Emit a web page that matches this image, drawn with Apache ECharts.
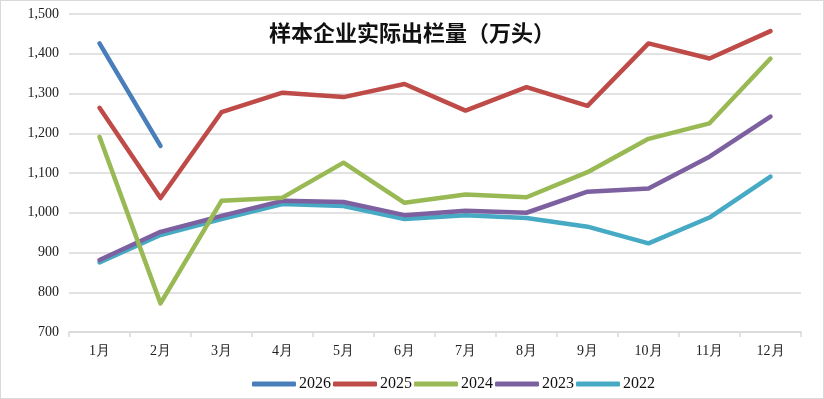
<!DOCTYPE html>
<html>
<head>
<meta charset="utf-8">
<script src="https://cdn.jsdelivr.net/npm/echarts@6/dist/echarts.min.js"></script>
<style>
html, body { margin: 0; padding: 0; background: #fff; }
#box { width: 824px; height: 399px; box-sizing: border-box; border: 1px solid #d9d9d9; }
#chart { width: 822px; height: 397px; }
</style>
</head>
<body>
<div id="box"><div id="chart"></div></div>
<script>
var months = ['1月', '2月', '3月', '4月', '5月', '6月', '7月', '8月', '9月', '10月', '11月', '12月'];
var years = ['2026', '2025', '2024', '2023', '2022'];
var colors = ['#4a7ebb', '#be4b48', '#98b954', '#7d60a0', '#46aac5'];

var v2026 = [1426, 1168];
var v2025 = [1264, 1037, 1253, 1302, 1291, 1324, 1257, 1316, 1269, 1426, 1388, 1457];
var v2024 = [1191, 772, 1030, 1038, 1126, 1025, 1046, 1039, 1102, 1186, 1225, 1388];
var v2023 = [881, 952, 992, 1030, 1027, 994, 1005, 1000, 1053, 1061, 1141, 1242];
var v2022 = [875, 944, 984, 1022, 1017, 984, 994, 987, 965, 923, 988, 1091];

var allData = [v2026, v2025, v2024, v2023, v2022];

var chart = echarts.init(document.getElementById('chart'));

var seriesList = [];
for (var i = 0; i < years.length; i++) {
    seriesList.push({
        name: years[i],
        type: 'line',
        data: allData[i],
        showSymbol: false,
        symbol: 'none',
        lineStyle: { width: 4.5, color: colors[i], cap: 'round', join: 'round' },
        itemStyle: { color: colors[i] },
        z: 10 - i
    });
}

var option = {
    animation: false,
    title: {
        text: '样本企业实际出栏量（万头）',
        left: 'center',
        top: 16,
        textStyle: {
            fontFamily: 'Noto Sans CJK SC',
            fontWeight: 'bold',
            fontSize: 22,
            color: '#111'
        }
    },
    legend: {
        data: years,
        top: 370,
        left: 246,
        icon: 'roundRect',
        itemWidth: 44,
        itemHeight: 5,
        itemGap: 2,
        textStyle: { fontFamily: 'Liberation Serif', fontSize: 16, color: '#111', padding: [0, 0, 0, -2] }
    },
    grid: { left: 68, right: 22, top: 13, bottom: 66 },
    xAxis: {
        type: 'category',
        data: months,
        boundaryGap: true,
        axisLine: { lineStyle: { color: '#d9d9d9', width: 1.5 } },
        axisTick: { show: true, length: 5, lineStyle: { color: '#d9d9d9', width: 1.5 } },
        axisLabel: { fontFamily: 'Liberation Serif', fontSize: 14, color: '#222', margin: 12 }
    },
    yAxis: {
        type: 'value',
        min: 700,
        max: 1500,
        interval: 100,
        axisLine: { show: false },
        axisTick: { show: false },
        splitLine: { lineStyle: { color: '#d9d9d9', width: 1.5 } },
        axisLabel: {
            fontFamily: 'Liberation Serif',
            fontSize: 14,
            color: '#222',
            margin: 10,
            formatter: function (v) { return v.toLocaleString('en-US'); }
        }
    },
    series: seriesList
};

chart.setOption(option);
</script>
</body>
</html>
